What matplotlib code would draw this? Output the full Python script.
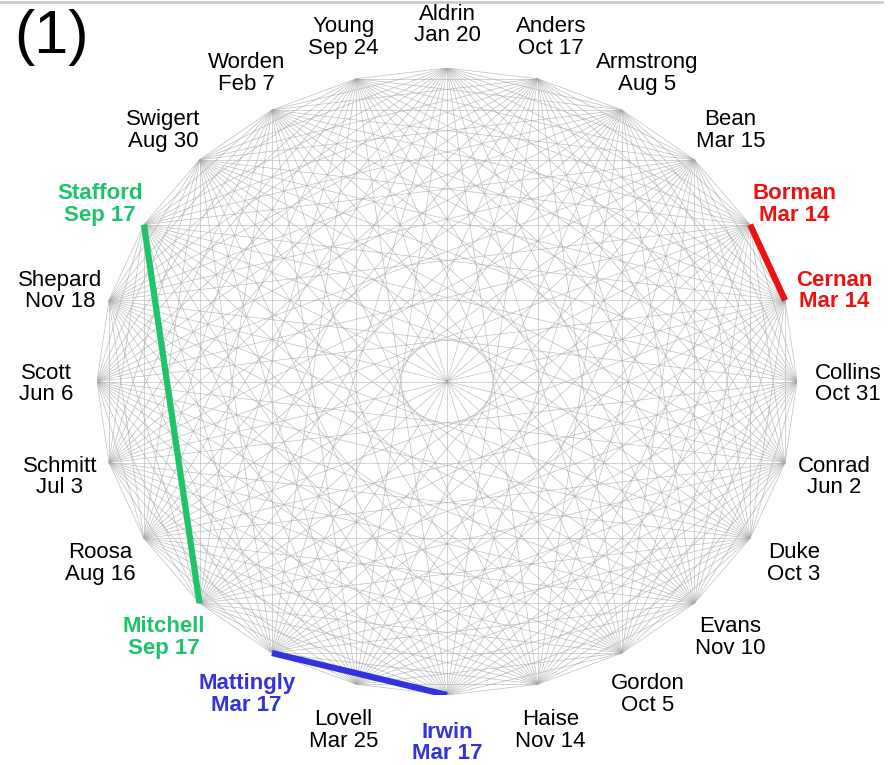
import matplotlib.pyplot as plt
from matplotlib.lines import Line2D
import numpy as np

names = ["Aldrin", "Anders", "Armstrong", "Bean", "Borman", "Cernan",
         "Collins", "Conrad", "Duke", "Evans", "Gordon", "Haise",
         "Irwin", "Lovell", "Mattingly", "Mitchell", "Roosa", "Schmitt",
         "Scott", "Shepard", "Stafford", "Swigert", "Worden", "Young"]
birthdays = ["Jan 20", "Oct 17", "Aug 5", "Mar 15", "Mar 14", "Mar 14",
             "Oct 31", "Jun 2", "Oct 3", "Nov 10", "Oct 5", "Nov 14",
             "Mar 17", "Mar 25", "Mar 17", "Sep 17", "Aug 16", "Jul 3",
             "Jun 6", "Nov 18", "Sep 17", "Aug 30", "Feb 7", "Sep 24"]

# pairs sharing a birthday, with their colour
pairs = [("Borman", "Cernan", "#ee1111"),
         ("Stafford", "Mitchell", "#1fc46a"),
         ("Mattingly", "Irwin", "#3333dd")]

W, H = 891, 765
fig = plt.figure(figsize=(W / 100, H / 100), dpi=100)
# axes box chosen so the unit circle lands where the reference ellipse is
ax = fig.add_axes([97 / W, 70 / H, 700 / W, 627 / H])
ax.set_xlim(-1, 1)
ax.set_ylim(-1, 1)
ax.axis("off")

n = len(names)
ang = np.pi / 2 - 2 * np.pi * np.arange(n) / n
xs = np.cos(ang)
ys = np.sin(ang)

for i in range(n):
    for j in range(i + 1, n):
        ax.plot([xs[i], xs[j]], [ys[i], ys[j]], color="#a8a8a8", lw=0.45,
                alpha=0.8, solid_capstyle="butt")

colour_of = {}
for a, b, c in pairs:
    i, j = names.index(a), names.index(b)
    ax.plot([xs[i], xs[j]], [ys[i], ys[j]], color=c, lw=4.5,
            solid_capstyle="butt", zorder=5)
    colour_of[a] = c
    colour_of[b] = c

plt.rcParams["font.family"] = ["Liberation Sans", "DejaVu Sans"]
r_lab = 1.145
dy = 2.5 / 313.5  # labels sit a few pixels lower
for k in range(n):
    c = colour_of.get(names[k], "black")
    bold = names[k] in colour_of
    ax.text(r_lab * xs[k], r_lab * ys[k] - dy, names[k] + "\n" + birthdays[k],
            ha="center", va="center", fontsize=16, color=c,
            fontweight="bold" if bold else "normal", linespacing=1.05,
            clip_on=False)

fig.text(52 / W, 1 - 37 / H, "(1)", ha="center", va="center", fontsize=44)
fig.add_artist(Line2D([0, 0.99], [1 - 1.5 / H, 1 - 1.5 / H],
                      transform=fig.transFigure, color="#cccccc", lw=2))

fig.savefig("out.png", dpi=100)
